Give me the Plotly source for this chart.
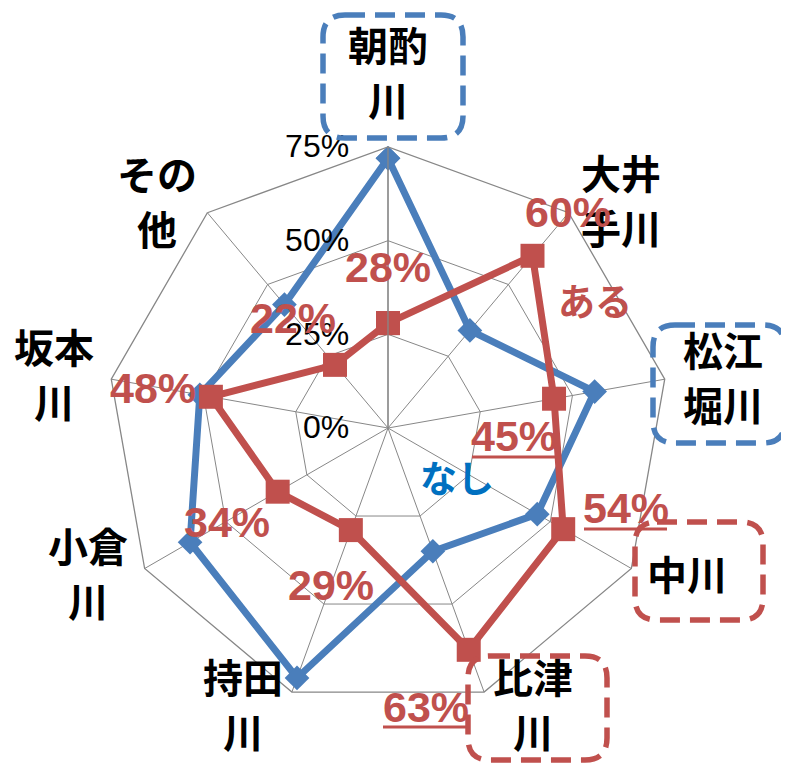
import plotly.graph_objects as go

W, H = 781, 757   # page body has an 8px margin; figure fills the rest of the 789x765 window
OFF = 8

categories = ["朝酌川", "大井手川", "松江堀川", "中川", "比津川", "持田川", "小倉川", "坂本川", "その他"]
cat_labels = ["朝酌<br>川", "大井<br>手川", "松江<br>堀川", "中川", "比津<br>川", "持田<br>川", "小倉<br>川", "坂本<br>川", "その<br>他"]
nashi = [72, 34, 56, 46, 35, 71, 61, 51, 43]   # 「なし」 blue
aru = [28, 60, 45, 54, 63, 29, 34, 48, 22]     # 「ある」 red
radial_ticks = [0, 25, 50, 75]
radial_ticktext = [f"{v}%" for v in radial_ticks]
series_names = ["なし", "ある"]

BLUE = "#4A7EBB"
RED = "#C0504D"
GRID = "#878787"

def px(x, y):
    return (x - OFF) / W, 1 - (y - OFF) / H

fig = go.Figure()
fig.add_trace(go.Scatterpolar(
    r=nashi + [nashi[0]], theta=categories + [categories[0]], name=series_names[0],
    mode="lines+markers", line=dict(color=BLUE, width=7),
    marker=dict(symbol="diamond", size=19, color=BLUE)))
fig.add_trace(go.Scatterpolar(
    r=aru + [aru[0]], theta=categories + [categories[0]], name=series_names[1],
    mode="lines+markers", line=dict(color=RED, width=7),
    marker=dict(symbol="square", size=24, color=RED)))

cx, cy, R = 388 - OFF, 428 - OFF, 281
fig.update_layout(
    width=W, height=H, margin=dict(l=0, r=0, t=0, b=0),
    paper_bgcolor="white", plot_bgcolor="white", showlegend=False,
    polar=dict(
        domain=dict(x=[(cx - R) / W, (cx + R) / W], y=[1 - (cy + R) / H, 1 - (cy - R) / H]),
        gridshape="linear", bgcolor="white",
        angularaxis=dict(direction="clockwise", rotation=90, showticklabels=False, ticks="",
                         showline=True, linecolor=GRID, linewidth=1.3,
                         gridcolor=GRID, gridwidth=1.3),
        radialaxis=dict(range=[0, 75], tickvals=radial_ticks, ticktext=radial_ticktext, angle=90,
                        tickangle=90,
                        side="counterclockwise", showline=True, linecolor=GRID, linewidth=1.3,
                        gridcolor=GRID, gridwidth=1.3, ticks="outside", ticklen=27,
                        tickcolor="rgba(0,0,0,0)",
                        tickfont=dict(family="Liberation Sans", size=32, color="black")),
    ),
)

# category labels, one annotation per text line
cat_pos = [(388, 46), (621, 174), (723, 351), (687, 575), (533, 678),
           (243, 678), (88, 547), (54, 348), (157, 175)]
LINE_GAP = 55
for lab, (x, y) in zip(cat_labels, cat_pos):
    for i, line in enumerate(lab.split("<br>")):
        ax, ay = px(x, y - 2 + i * LINE_GAP)
        fig.add_annotation(x=ax, y=ay, xref="paper", yref="paper", text=line, showarrow=False,
                           font=dict(family="Noto Sans CJK JP", size=40, color="black", weight="bold"),
                           xanchor="center", yanchor="middle")

# red value labels
val_pos = [(388, 267), (568, 212), (514, 436), (626, 508), (426, 707),
           (331, 585), (227, 522), (153, 388), (293, 318)]
for v, (x, y) in zip(aru, val_pos):
    ax, ay = px(x, y)
    fig.add_annotation(x=ax, y=ay, xref="paper", yref="paper", text=f"{v}%", showarrow=False,
                       font=dict(family="Liberation Sans", size=43, color=RED, weight="bold"),
                       xanchor="center", yanchor="middle")

# series labels
for name, (x, y), col in [(series_names[0], (457, 477), "#0070C0"), (series_names[1], (595, 300), RED)]:
    ax, ay = px(x, y)
    fig.add_annotation(x=ax, y=ay, xref="paper", yref="paper", text=name, showarrow=False,
                       font=dict(family="Noto Sans CJK JP", size=37, color=col, weight="bold"),
                       xanchor="center", yanchor="middle")

# underlines
for (x0, x1, y) in [(472, 555, 457), (584, 667, 529), (383, 470, 727)]:
    a0, b0 = px(x0, y)
    a1, b1 = px(x1, y)
    fig.add_shape(type="line", xref="paper", yref="paper", x0=a0, y0=b0, x1=a1, y1=b1,
                  line=dict(color=RED, width=3))

def rounded(x0, y0, x1, y1, r):
    def P(x, y):
        a, b = px(x, y)
        return f"{a:.5f},{b:.5f}"
    return (f"M {P(x0 + r, y0)} L {P(x1 - r, y0)} Q {P(x1, y0)} {P(x1, y0 + r)} "
            f"L {P(x1, y1 - r)} Q {P(x1, y1)} {P(x1 - r, y1)} "
            f"L {P(x0 + r, y1)} Q {P(x0, y1)} {P(x0, y1 - r)} "
            f"L {P(x0, y0 + r)} Q {P(x0, y0)} {P(x0 + r, y0)} Z")

for (x0, y0, x1, y1), col in [((323, 15, 463, 138), BLUE), ((653, 325, 785, 443), BLUE),
                              ((635, 522, 763, 620), RED), ((468, 656, 607, 760), RED)]:
    fig.add_shape(type="path", xref="paper", yref="paper", path=rounded(x0, y0, x1, y1, 22),
                  line=dict(color=col, width=5.5, dash="20px,10px"))

fig.write_html("out.html")
